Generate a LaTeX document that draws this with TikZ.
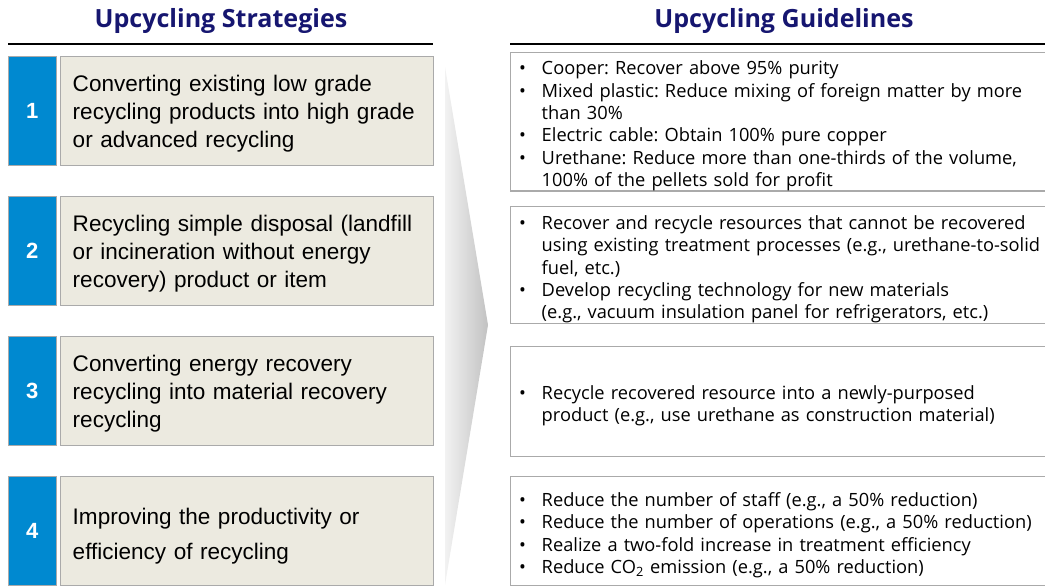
\documentclass[tikz,border=0pt]{standalone}
\usepackage{fontspec}
\setmainfont{Liberation Sans}
\newfontfamily\guidefont{Open Sans}
\usetikzlibrary{positioning}
\definecolor{headnavy}{RGB}{22,22,112}
\definecolor{numblue}{RGB}{0,137,208}
\definecolor{stratfill}{RGB}{236,234,224}
\definecolor{boxgray}{RGB}{170,170,170}
\tikzset{
    every node/.style={align=center,},
    heading/.style={font=\guidefont\bfseries\fontsize{18.8}{22}\selectfont, text=headnavy,},
    headrule/.style={line width=1.1pt,},
    lowertext/.style={execute at begin node={\rule{0pt}{#1}}},
    numbox/.style={draw=boxgray, fill=numblue, text=white, anchor=north west, inner sep=0pt,
        minimum width=36pt, minimum height=81.75pt, font=\bfseries\fontsize{16.5}{20}\selectfont,},
    stratbox/.style={draw=boxgray, line width=1.1pt, fill=stratfill, anchor=north west, align=left,
        text width=261.75pt, inner xsep=9pt, inner ysep=0pt, minimum height=81.75pt,
        font=\fontsize{16.9}{21}\selectfont, lowertext=15.3pt,},
    guidebox/.style={draw=boxgray, line width=1.1pt, anchor=north west, align=left,
        text width=393pt, inner xsep=5.25pt, inner ysep=0pt,
        font=\guidefont\frenchspacing\fontsize{13.7}{16.8}\selectfont, lowertext=16.5pt,},
}
\newcommand{\gdot}{\makebox[18pt][l]{\hspace{1pt}\textbullet}}
\newcommand{\gind}{\hspace*{18pt}}

\begin{document}
\begin{tikzpicture}[x=0.75pt,y=-0.75pt]
    \useasboundingbox (0,0) rectangle (1045,586);

    % headings
    \node[heading] (strat_head) at (221,21) {Upcycling Strategies};
    \node[heading] (guide_head) at (784,21) {Upcycling Guidelines};
    \draw[headrule] (8,44) -- (433,44);
    \draw[headrule] (510,44) -- (1045,44);

    % big arrow
    \shade[left color=black!5, right color=black!24] (445,67) -- (488,325) -- (445,585) -- cycle;

    % strategies
    \node[numbox] (num1) at (8,56) {1};
    \node[stratbox] (strat1) at (60,56) {Converting existing low grade\\recycling products into high grade\\or advanced recycling};

    \node[numbox] (num2) at (8,196) {2};
    \node[stratbox] (strat2) at (60,196) {Recycling simple disposal (landfill\\or incineration without energy\\recovery) product or item};

    \node[numbox] (num3) at (8,336) {3};
    \node[stratbox] (strat3) at (60,336) {Converting energy recovery\\recycling into material recovery\\recycling};

    \node[numbox] (num4) at (8,476) {4};
    \node[stratbox, font=\fontsize{16.9}{26.25}\selectfont, lowertext=19.8pt] (strat4) at (60,476) {Improving the productivity or\\efficiency of recycling};

    % guidelines
    \node[guidebox, minimum height=102.75pt] (guide1) at (510,52) {\gdot Cooper: Recover above 95\% purity\\
        \gdot Mixed plastic: Reduce mixing of foreign matter by more\\
        \gind than 30\%\\
        \gdot Electric cable: Obtain 100\% pure copper\\
        \gdot Urethane: Reduce more than one-thirds of the volume,\\
        \gind 100\% of the pellets sold for profit};

    \node[guidebox, minimum height=87.75pt] (guide2) at (510,206) {\gdot Recover and recycle resources that cannot be recovered\\
        \gind using existing treatment processes (e.g., urethane-to-solid\\
        \gind fuel, etc.)\\
        \gdot Develop recycling technology for new materials\\
        \gind (e.g., vacuum insulation panel for refrigerators, etc.)};

    \node[guidebox, minimum height=82.5pt] (guide3) at (510,346) {\gdot Recycle recovered resource into a newly-purposed\\
        \gind product (e.g., use urethane as construction material)};

    \node[guidebox, minimum height=81.75pt] (guide4) at (510,476) {\gdot Reduce the number of staff (e.g., a 50\% reduction)\\
        \gdot Reduce the number of operations (e.g., a 50\% reduction)\\
        \gdot Realize a two-fold increase in treatment efficiency\\
        \gdot Reduce CO\textsubscript{2} emission (e.g., a 50\% reduction)};
\end{tikzpicture}
\end{document}
